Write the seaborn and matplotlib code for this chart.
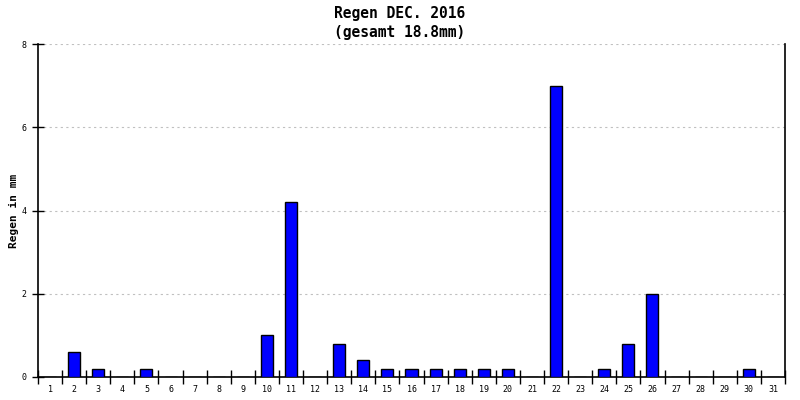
import matplotlib
matplotlib.use("Agg")
import matplotlib.pyplot as plt
import seaborn as sns
import pandas as pd
from matplotlib.ticker import FixedLocator

days = list(range(1, 32))
rain = [0, 0.6, 0.2, 0, 0.2, 0, 0, 0, 0, 1.0, 4.2, 0, 0.8, 0.4, 0.2, 0.2,
        0.2, 0.2, 0.2, 0.2, 0, 7.0, 0, 0.2, 0.8, 2.0, 0, 0, 0, 0.2, 0]
title = "Regen DEC. 2016\n(gesamt 18.8mm)"
ylabel = "Regen in mm"
yticks = [0, 2, 4, 6, 8]

sns.set_theme(style="white")
plt.rcParams['font.family'] = ['DejaVu Sans Mono']
plt.rcParams['text.color'] = 'black'
plt.rcParams['axes.labelcolor'] = 'black'
plt.rcParams['xtick.color'] = 'black'
plt.rcParams['ytick.color'] = 'black'

df = pd.DataFrame({"day": [str(d) for d in days], "rain": rain})

fig = plt.figure(figsize=(8, 4), dpi=100)
ax = fig.add_axes([38/800, 1 - 377/400, (785-38)/800, (377-44)/400])
sns.barplot(data=df, x="day", y="rain", ax=ax, color="#0000ff", saturation=1,
            edgecolor="black", linewidth=1.0, width=0.5, zorder=3)

ax.set_xlim(-0.5, len(days) - 0.5)
ax.set_ylim(0, 8)
ax.set_yticks(yticks)
ax.set_yticklabels([str(v) for v in yticks], fontsize=6)
ax.yaxis.grid(True, linestyle=(0, (2, 3)), color="#c0c0c0", linewidth=0.8, zorder=0)
ax.xaxis.grid(False)

ax.tick_params(axis="x", which="major", length=0, labelsize=6, pad=6)
ax.xaxis.set_minor_locator(FixedLocator([i - 0.5 for i in range(len(days) + 1)]))
ax.tick_params(axis="x", which="minor", direction="inout", length=10, width=1, color="black")
ax.tick_params(axis="y", which="major", direction="inout", length=8, width=1, color="black", pad=4)
ax.tick_params(axis="both", left=True, bottom=True)
ax.tick_params(axis="x", which="minor", bottom=True)

for s in ["left", "bottom", "right"]:
    ax.spines[s].set_visible(True)
    ax.spines[s].set_color("black")
    ax.spines[s].set_linewidth(1.2)
ax.spines["top"].set_visible(False)

ax.set_xlabel("")
ax.set_ylabel(ylabel, fontsize=8, fontweight="bold", color="black")
ax.yaxis.set_label_coords(-0.026, 0.5)
fig.suptitle(title, fontsize=10.5, fontweight="bold", y=0.985, linespacing=1.3, color="black")

fig.savefig("out.png", dpi=100)
